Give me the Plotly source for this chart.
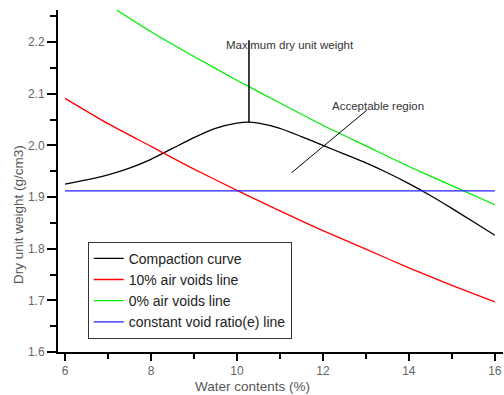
import plotly.graph_objects as go

# ---- data ----
comp_x = [6, 6.5, 7, 7.5, 8, 8.5, 9, 9.5, 10, 10.25, 10.5, 11, 11.5, 12, 12.5, 13, 13.5, 14, 14.5, 15, 15.5, 16]
comp_y = [1.925, 1.933, 1.943, 1.956, 1.973, 1.994, 2.015, 2.033, 2.043, 2.045, 2.043, 2.033, 2.017, 2.000, 1.983,
          1.966, 1.947, 1.926, 1.903, 1.878, 1.852, 1.826]

air10_x = [6, 7, 8, 9, 10, 11, 12, 13, 14, 15, 16]
air10_y = [2.091, 2.042, 1.998, 1.954, 1.913, 1.873, 1.835, 1.799, 1.763, 1.729, 1.697]

air0_x = [7.2, 8, 9, 10, 11, 12, 13, 14, 15, 16]
air0_y = [2.262, 2.220, 2.172, 2.126, 2.082, 2.039, 1.999, 1.959, 1.922, 1.885]

void_x = [6, 16]
void_y = [1.912, 1.912]

names = ["Compaction curve", "10% air voids line", "0% air voids line", "constant void ratio(e) line"]
colors = ["#000000", "#ff0000", "#00ee00", "#2222ff"]

# annotation anchors (data coords)
max_line_x = [10.28, 10.28]
max_line_y = [2.045, 2.2035]
acc_line_x = [11.27, 13.02]
acc_line_y = [1.947, 2.068]

xticks = [6, 8, 10, 12, 14, 16]
yticks = [1.6, 1.7, 1.8, 1.9, 2.0, 2.1, 2.2]

fig = go.Figure()
for xs, ys, nm, c in zip([comp_x, air10_x, air0_x, void_x], [comp_y, air10_y, air0_y, void_y], names, colors):
    fig.add_trace(go.Scatter(x=xs, y=ys, mode="lines", name=nm,
                             line=dict(color=c, width=1.3, shape="spline", smoothing=0.6)))

fig.add_trace(go.Scatter(x=max_line_x, y=max_line_y, mode="lines", showlegend=False,
                         line=dict(color="black", width=1.5), hoverinfo="skip"))
fig.add_trace(go.Scatter(x=acc_line_x, y=acc_line_y, mode="lines", showlegend=False,
                         line=dict(color="black", width=1), hoverinfo="skip"))

afont = dict(family="Liberation Sans, Arial", size=11.5, color="#333333")
fig.add_annotation(x=11.23, y=2.194, text="Maximum dry unit weight", showarrow=False, font=afont)
fig.add_annotation(x=13.28, y=2.076, text="Acceptable region", showarrow=False, font=afont)

title_font = dict(family="Liberation Sans, Arial", size=13.5, color="#555555")
fig.add_annotation(xref="paper", yref="paper", x=0.438, y=-0.102, xanchor="center", yanchor="middle",
                   text="Water contents (%)", showarrow=False, font=title_font)
fig.add_annotation(xref="paper", yref="paper", x=-0.0899, y=0.4035, xanchor="center", yanchor="middle",
                   text="Dry unit weight (g/cm3)", textangle=-90, showarrow=False, font=title_font)

tfont = dict(family="Liberation Sans, Arial", size=12, color="#666666")
common = dict(showgrid=False, zeroline=False, showline=True, linecolor="black", linewidth=2,
              ticks="outside", tickwidth=2, tickcolor="black", tickfont=tfont)

fig.update_xaxes(range=[5.837, 16.19], tickvals=xticks, ticktext=[str(v) for v in xticks],
                 ticklen=7,
                 minor=dict(ticks="outside", ticklen=5, tickwidth=2, tickcolor="black", dtick=1, tick0=6),
                 **common)
fig.update_yaxes(range=[1.6, 2.262], tickvals=yticks, ticktext=[f"{v:.1f}" for v in yticks],
                 ticklen=9,
                 minor=dict(ticks="outside", ticklen=6, tickwidth=2, tickcolor="black", dtick=0.05, tick0=1.6),
                 **common)

fig.update_layout(
    width=504, height=395,
    margin=dict(l=58, r=1, t=10, b=43),
    plot_bgcolor="white", paper_bgcolor="white",
    legend=dict(x=0.0667, y=0.3225, xanchor="left", yanchor="top",
                bordercolor="#333333", borderwidth=1, bgcolor="white",
                font=dict(family="Liberation Sans, Arial", size=14, color="#222222"),
                tracegroupgap=0, itemwidth=30),
)

fig.write_html("out.html")
